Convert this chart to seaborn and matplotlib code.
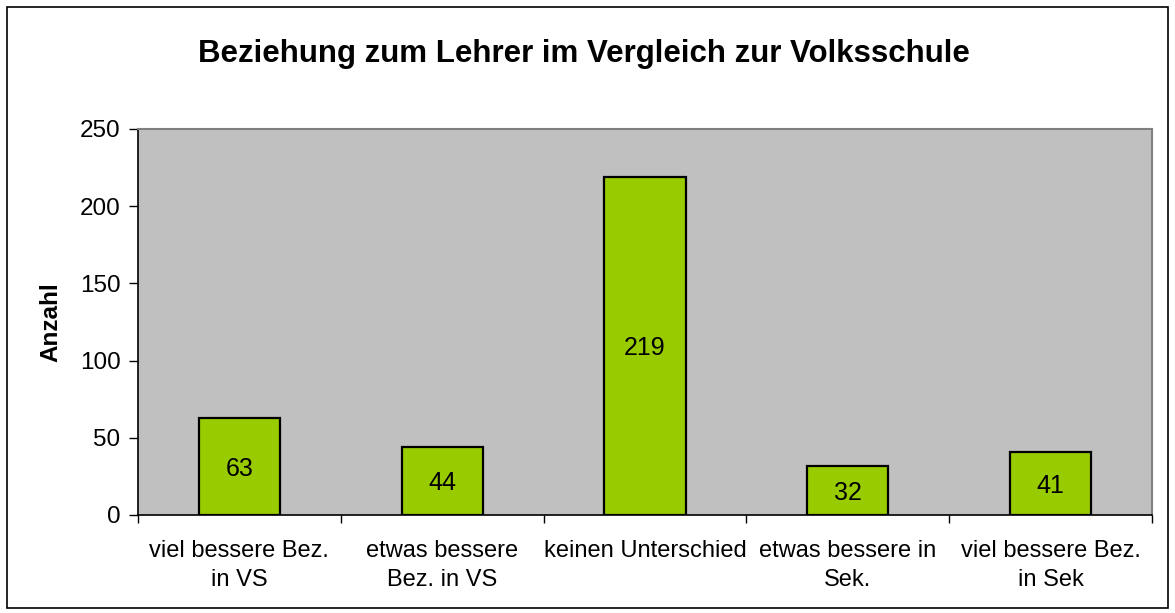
import matplotlib
matplotlib.use('Agg')
import matplotlib.pyplot as plt
import matplotlib.patches as patches
import pandas as pd
import seaborn as sns

categories = ['viel bessere Bez.\nin VS', 'etwas bessere\nBez. in VS', 'keinen Unterschied',
              'etwas bessere in\nSek.', 'viel bessere Bez.\nin Sek']
counts = [63, 44, 219, 32, 41]
y_ticks = [0, 50, 100, 150, 200, 250]

sns.set_style('white')
plt.rcParams['font.family'] = ['Liberation Sans', 'DejaVu Sans']
plt.rcParams['text.color'] = 'black'
plt.rcParams['axes.labelcolor'] = 'black'
plt.rcParams['xtick.color'] = 'black'
plt.rcParams['ytick.color'] = 'black'

df = pd.DataFrame({'kategorie': categories, 'anzahl': counts})

fig = plt.figure(figsize=(11.75, 6.13), dpi=100)
ax = fig.add_axes([0.1174, 0.1599, 0.9804 - 0.1174, 0.7896 - 0.1599])
ax.set_facecolor('#C0C0C0')

sns.barplot(data=df, x='kategorie', y='anzahl', color='#99CC00', saturation=1,
            width=0.4, edgecolor='black', linewidth=1.6, ax=ax)

# Werte mittig in die Balken schreiben
for i, v in enumerate(counts):
    ax.text(i, v / 2 - 1.5, str(v), ha='center', va='center', fontsize=18)

ax.set_xlim(-0.5, len(categories) - 0.5)
ax.set_ylim(0, 250)
ax.set_yticks(y_ticks)
ax.tick_params(axis='y', labelsize=17.5, length=6.5, width=1, pad=6, direction='out', left=True)
ax.set_xticks(range(len(categories)))
ax.set_xticklabels(categories, fontsize=17, linespacing=1.4)
ax.tick_params(axis='x', which='major', length=0, pad=18)
ax.set_xticks([i - 0.5 for i in range(len(categories) + 1)], minor=True)
ax.tick_params(axis='x', which='minor', length=6, width=1, direction='out', bottom=True)

ax.set_xlabel('')
ax.set_ylabel('Anzahl', fontsize=17.5, fontweight='bold')
ax.yaxis.set_label_coords(-0.075, 0.5)

for side in ['left', 'bottom']:
    ax.spines[side].set_color('black')
    ax.spines[side].set_linewidth(1.2)
for side in ['top', 'right']:
    ax.spines[side].set_visible(True)
    ax.spines[side].set_color('#808080')
    ax.spines[side].set_linewidth(1.5)

fig.text(0.497, 0.912, 'Beziehung zum Lehrer im Vergleich zur Volksschule',
         ha='center', va='center', fontsize=22.5, fontweight='bold')

# Rahmen um das ganze Diagramm
fig.patches.append(patches.Rectangle((7 / 1175, 5 / 613), 1161 / 1175, 601 / 613,
                                     transform=fig.transFigure, fill=False,
                                     edgecolor='black', linewidth=1.2))

fig.savefig('out.png', dpi=100)
